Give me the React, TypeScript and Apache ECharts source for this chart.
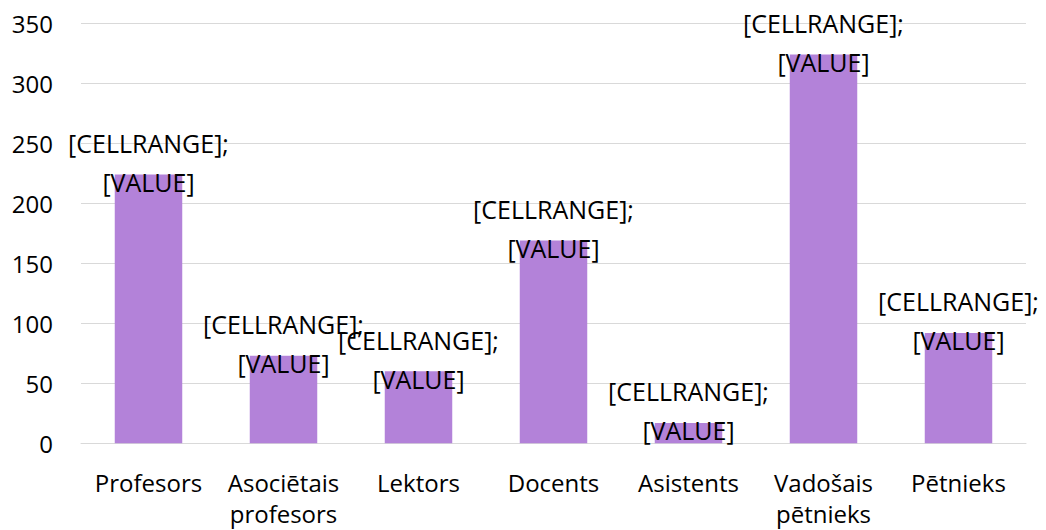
import React, { useEffect, useRef } from "react";
import * as echarts from "echarts";

const categories = [
  "Profesors",
  "Asociētais profesors",
  "Lektors",
  "Docents",
  "Asistents",
  "Vadošais pētnieks",
  "Pētnieks",
];
const values = [224, 73, 60, 169, 17, 324, 92];
const yTicks = { min: 0, max: 350, interval: 50 };
const labelText = "[CELLRANGE];\n[VALUE]";

export default function App() {
  const ref = useRef<HTMLDivElement>(null);
  useEffect(() => {
    document.body.style.margin = "0";
    if (!ref.current) return;
    const chart = echarts.init(ref.current, null, { renderer: "svg" });
    const font = "'Open Sans', 'Noto Sans', sans-serif";
    chart.setOption({
      animation: false,
      backgroundColor: "#ffffff",
      grid: {
        left: 81,
        right: 20,
        top: 23.3,
        bottom: 86.7,
        containLabel: false,
        outerBoundsMode: "none",
      },
      xAxis: {
        type: "category",
        data: categories,
        axisLine: { show: true, lineStyle: { color: "#d9d9d9", width: 1 } },
        axisTick: { show: false },
        axisLabel: {
          interval: 0,
          margin: 24,
          color: "#000000",
          fontFamily: font,
          fontSize: 24,
          lineHeight: 31,
          formatter: (v: string) => v.replace(" ", "\n"),
        },
      },
      yAxis: {
        type: "value",
        min: yTicks.min,
        max: yTicks.max,
        interval: yTicks.interval,
        axisLine: { show: false },
        axisTick: { show: false },
        splitLine: { show: true, lineStyle: { color: "#d9d9d9", width: 1 } },
        axisLabel: {
          margin: 28,
          color: "#000000",
          fontFamily: font,
          fontSize: 24,
        },
      },
      series: [
        {
          type: "bar",
          data: values,
          barCategoryGap: "50%",
          itemStyle: { color: "#B382D9" },
          label: {
            show: true,
            position: ["50%", -12],
            align: "center",
            verticalAlign: "middle",
            formatter: () => labelText,
            color: "#000000",
            fontFamily: font,
            fontSize: 25,
            lineHeight: 39,
          },
          labelLayout: { hideOverlap: false },
        },
      ],
    });
    return () => chart.dispose();
  }, []);
  return <div ref={ref} style={{ width: 1046, height: 530 }} />;
}
